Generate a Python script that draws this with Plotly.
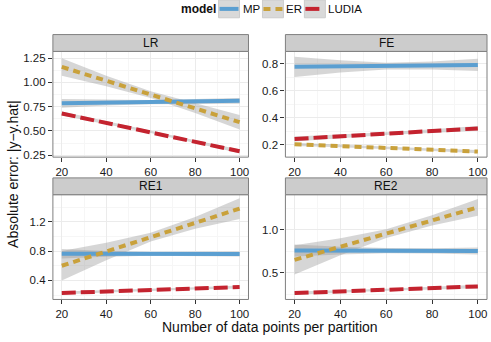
import plotly.graph_objects as go

# ---------------- data ----------------
x_points = [20, 40, 60, 80, 100]
models = ["MP", "ER", "LUDIA"]
panels = ["LR", "FE", "RE1", "RE2"]

# fitted values
LR_MP = [0.785, 0.791, 0.797, 0.803, 0.810]
LR_ER = [1.160, 1.015, 0.875, 0.735, 0.590]
LR_LUDIA = [0.680, 0.585, 0.490, 0.390, 0.290]
FE_MP = [0.776, 0.779, 0.782, 0.786, 0.790]
FE_ER = [0.205, 0.192, 0.178, 0.165, 0.151]
FE_LUDIA = [0.244, 0.263, 0.283, 0.302, 0.322]
RE1_MP = [0.765, 0.763, 0.762, 0.761, 0.760]
RE1_ER = [0.600, 0.795, 0.990, 1.185, 1.380]
RE1_LUDIA = [0.228, 0.249, 0.270, 0.290, 0.310]
RE2_MP = [0.760, 0.759, 0.758, 0.756, 0.755]
RE2_ER = [0.651, 0.804, 0.957, 1.110, 1.263]
RE2_LUDIA = [0.264, 0.284, 0.303, 0.323, 0.342]

# confidence half-widths
LR_MP_se = [0.045, 0.030, 0.022, 0.025, 0.030]
LR_ER_se = [0.090, 0.055, 0.035, 0.050, 0.075]
LR_LUDIA_se = [0.020, 0.015, 0.012, 0.015, 0.020]
FE_MP_se = [0.075, 0.045, 0.025, 0.030, 0.045]
FE_ER_se = [0.012, 0.009, 0.007, 0.009, 0.012]
FE_LUDIA_se = [0.018, 0.013, 0.010, 0.013, 0.018]
RE1_MP_se = [0.065, 0.040, 0.025, 0.028, 0.035]
RE1_ER_se = [0.200, 0.120, 0.060, 0.080, 0.140]
RE1_LUDIA_se = [0.020, 0.015, 0.012, 0.015, 0.020]
RE2_MP_se = [0.070, 0.045, 0.030, 0.030, 0.040]
RE2_ER_se = [0.170, 0.100, 0.050, 0.060, 0.097]
RE2_LUDIA_se = [0.020, 0.015, 0.012, 0.015, 0.020]

fits = {
    "LR": {"MP": (LR_MP, LR_MP_se), "ER": (LR_ER, LR_ER_se), "LUDIA": (LR_LUDIA, LR_LUDIA_se)},
    "FE": {"MP": (FE_MP, FE_MP_se), "ER": (FE_ER, FE_ER_se), "LUDIA": (FE_LUDIA, FE_LUDIA_se)},
    "RE1": {"MP": (RE1_MP, RE1_MP_se), "ER": (RE1_ER, RE1_ER_se), "LUDIA": (RE1_LUDIA, RE1_LUDIA_se)},
    "RE2": {"MP": (RE2_MP, RE2_MP_se), "ER": (RE2_ER, RE2_ER_se), "LUDIA": (RE2_LUDIA, RE2_LUDIA_se)},
}

x_ticks = [20, 40, 60, 80, 100]
y_ticks = {
    "LR": [0.25, 0.50, 0.75, 1.00, 1.25],
    "FE": [0.2, 0.4, 0.6, 0.8],
    "RE1": [0.4, 0.8, 1.2],
    "RE2": [0.5, 1.0],
}
y_minor = {
    "LR": [0.375, 0.625, 0.875, 1.125],
    "FE": [0.1, 0.3, 0.5, 0.7],
    "RE1": [0.2, 0.6, 1.0, 1.4],
    "RE2": [0.25, 0.75, 1.25],
}
y_fmt = {"LR": ".2f", "FE": ".1f", "RE1": ".1f", "RE2": ".1f"}
y_ranges = {"LR": [0.23, 1.32], "FE": [0.11, 0.89], "RE1": [0.14, 1.57], "RE2": [0.19, 1.41]}

# ---------------- style ----------------
W, H = 491, 342
FONT = "Liberation Sans, Arial, Helvetica, sans-serif"
colors = {"MP": "#5b9fd1", "ER": "#c9a13b", "LUDIA": "#c4232f"}
dashes = {"MP": "solid", "ER": "7px,5px", "LUDIA": "14px,5px"}

# pixel boxes of panels: (x0, x1, y_top, y_bottom)
boxes = {
    "LR": (53, 249, 52, 159),
    "FE": (286, 488, 52, 159),
    "RE1": (53, 249, 197, 303),
    "RE2": (286, 488, 197, 303),
}


def px(v):
    return v / W


def py(v):
    return 1 - v / H


fig = go.Figure()
layout = dict(
    width=W, height=H,
    margin=dict(l=0, r=0, t=0, b=0),
    paper_bgcolor="white", plot_bgcolor="white",
    showlegend=False,
    font=dict(family=FONT, color="#222"),
)
shapes = []
annotations = []

for i, p in enumerate(panels):
    n = "" if i == 0 else str(i + 1)
    xa, ya = "x" + n, "y" + n
    x0, x1, yt, yb = boxes[p]
    layout["xaxis" + n] = dict(
        domain=[px(x0), px(x1)], anchor=ya, range=[16, 104],
        tickvals=x_ticks, ticks="outside", ticklen=4, tickcolor="#333",
        tickfont=dict(size=11.5, color="#1a1a1a"), showgrid=True, gridcolor="#ebebeb",
        gridwidth=1, zeroline=False, showline=False,
        minor=dict(tickvals=[30, 50, 70, 90], showgrid=True, gridcolor="#f6f6f6", ticks=""),
    )
    layout["yaxis" + n] = dict(
        domain=[py(yb), py(yt)], anchor=xa, range=y_ranges[p],
        tickvals=y_ticks[p], tickformat=y_fmt[p], ticks="outside", ticklen=4,
        tickcolor="#333", tickfont=dict(size=11.5, color="#1a1a1a"), showgrid=True,
        gridcolor="#ebebeb", zeroline=False, showline=False,
        minor=dict(tickvals=y_minor[p], showgrid=True, gridcolor="#f6f6f6", ticks=""),
    )
    # ribbons
    for m in models:
        fit, se = fits[p][m]
        upper = [f + s for f, s in zip(fit, se)]
        lower = [f - s for f, s in zip(fit, se)]
        fig.add_trace(go.Scatter(
            x=x_points + x_points[::-1], y=upper + lower[::-1], fill="toself",
            fillcolor="rgba(153,153,153,0.4)", line=dict(width=0), mode="lines",
            hoverinfo="skip", xaxis=xa, yaxis=ya,
        ))
    # lines
    for m in models:
        fit, se = fits[p][m]
        fig.add_trace(go.Scatter(
            x=x_points, y=fit, mode="lines", name=m,
            line=dict(color=colors[m], width=4, dash=dashes[m]),
            xaxis=xa, yaxis=ya,
        ))
    # panel border
    shapes.append(dict(type="rect", xref="paper", yref="paper",
                       x0=px(x0), x1=px(x1), y0=py(yb), y1=py(yt),
                       line=dict(color="#7f7f7f", width=1), fillcolor="rgba(0,0,0,0)", layer="above"))
    # strip
    st = yt - 17
    shapes.append(dict(type="rect", xref="paper", yref="paper",
                       x0=px(x0), x1=px(x1), y0=py(yt), y1=py(st),
                       line=dict(color="#7f7f7f", width=1), fillcolor="#cccccc", layer="above"))
    annotations.append(dict(text=p, xref="paper", yref="paper", x=px((x0 + x1) / 2),
                            y=py((yt + st) / 2), showarrow=False, xanchor="center",
                            yanchor="middle", font=dict(size=12, color="#111", family=FONT)))

# axis titles
annotations.append(dict(text="Number of data points per partition", xref="paper", yref="paper",
                        x=px(271), y=py(331), showarrow=False, xanchor="center", yanchor="middle",
                        font=dict(size=14, color="#111", family=FONT)))
annotations.append(dict(text="Absolute error: |y\u2212y.hat|", xref="paper", yref="paper",
                        x=px(13), y=py(176), showarrow=False, textangle=-90,
                        xanchor="center", yanchor="middle",
                        font=dict(size=14, color="#111", family=FONT)))

# legend (drawn manually)
annotations.append(dict(text="<b>model</b>", xref="paper", yref="paper", x=px(179), y=py(9),
                        showarrow=False, xanchor="left", yanchor="middle",
                        font=dict(size=12, color="#111", family=FONT)))
key_x = {"MP": 219, "ER": 263, "LUDIA": 305}
for m in models:
    kx = key_x[m]
    shapes.append(dict(type="rect", xref="paper", yref="paper", x0=px(kx), x1=px(kx + 21),
                       y0=py(18), y1=py(0), line=dict(color="#cccccc", width=1),
                       fillcolor="#d9d9d9"))
    shapes.append(dict(type="line", xref="paper", yref="paper", x0=px(kx + 1), x1=px(kx + 20),
                       y0=py(9), y1=py(9),
                       line=dict(color=colors[m], width=4, dash=dashes[m])))
    annotations.append(dict(text=m, xref="paper", yref="paper", x=px(kx + 22), y=py(9),
                            showarrow=False, xanchor="left", yanchor="middle",
                            font=dict(size=11.5, color="#111", family=FONT)))

layout["shapes"] = shapes
layout["annotations"] = annotations
fig.update_layout(**layout)
fig.write_html(
    "out.html",
    config={"displayModeBar": False},
    post_script="document.body.style.margin='0';document.body.style.padding='0';"
                "document.body.style.overflow='hidden';",
)
